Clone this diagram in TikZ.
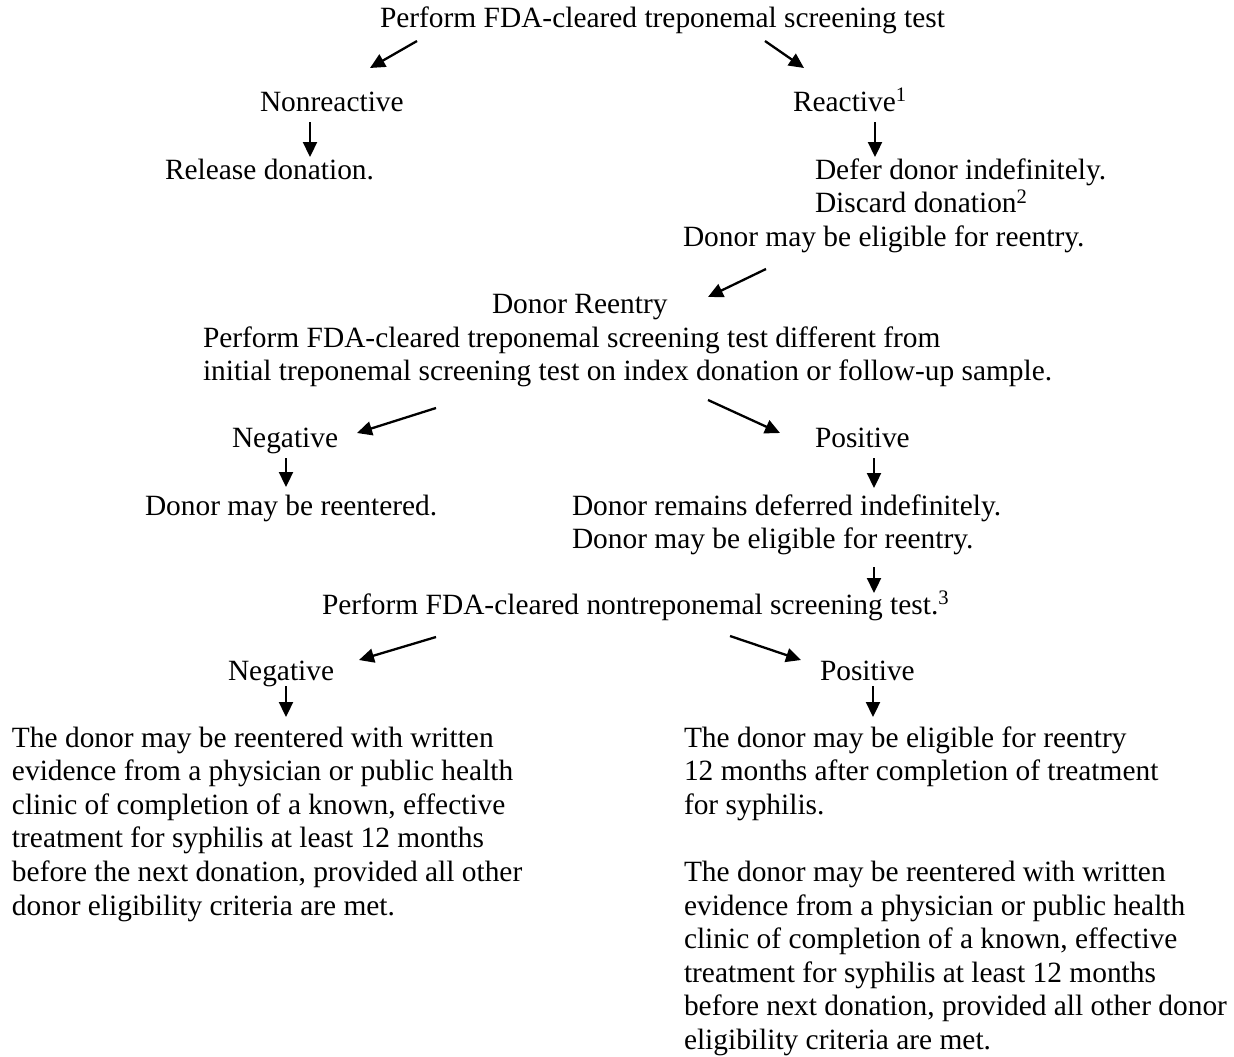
\documentclass[tikz,border=0pt]{standalone}
\usepackage{fontspec}
\setmainfont{Liberation Serif}
\usetikzlibrary{arrows.meta}
\begin{document}
\begin{tikzpicture}[x=1pt,y=-1pt,
  txt/.style={anchor=base west,inner sep=0pt,outer sep=0pt,font=\fontsize{29.4pt}{33.6pt}\selectfont},
  arr/.style={line width=2.3pt,-{Triangle[length=15pt,width=14pt]}}]
\useasboundingbox[fill=white] (0,0) rectangle (1234,1057);
% texts
\node[txt] (title) at (380,28) {Perform FDA-cleared treponemal screening test};
\node[txt] (nonreact) at (260,111) {Nonreactive};
\node[txt] (react) at (793,111) {Reactive\textsuperscript{1}};
\node[txt] (release) at (165,179) {Release donation.};
\node[txt] (defer) at (815,179) {\begin{tabular}[t]{@{}l@{}}Defer donor indefinitely.\\Discard donation\textsuperscript{2}\end{tabular}};
\node[txt] (elig1) at (683,246) {Donor may be eligible for reentry.};
\node[txt] (reentry) at (492,313) {Donor Reentry};
\node[txt] (perf2) at (203,347) {\begin{tabular}[t]{@{}l@{}}Perform FDA-cleared treponemal screening test different from\\initial treponemal screening test on index donation or follow-up sample.\end{tabular}};
\node[txt] (neg1) at (232,447) {Negative};
\node[txt] (pos1) at (815,447) {Positive};
\node[txt] (reentered) at (145,515) {Donor may be reentered.};
\node[txt] (remains) at (572,515) {\begin{tabular}[t]{@{}l@{}}Donor remains deferred indefinitely.\\Donor may be eligible for reentry.\end{tabular}};
\node[txt] (perf3) at (322,614) {Perform FDA-cleared nontreponemal screening test.\textsuperscript{3}};
\node[txt] (neg2) at (228,680) {Negative};
\node[txt] (pos2) at (820,680) {Positive};
\node[txt] (leftpar) at (12,747) {\begin{tabular}[t]{@{}l@{}}The donor may be reentered with written\\evidence from a physician or public health\\clinic of completion of a known, effective\\treatment for syphilis at least 12 months\\before the next donation, provided all other\\donor eligibility criteria are met.\end{tabular}};
\node[txt] (rightpar) at (684,747) {\begin{tabular}[t]{@{}l@{}}The donor may be eligible for reentry\\12 months after completion of treatment\\for syphilis.\\ \\The donor may be reentered with written\\evidence from a physician or public health\\clinic of completion of a known, effective\\treatment for syphilis at least 12 months\\before next donation, provided all other donor\\eligibility criteria are met.\end{tabular}};
% arrow end points
\coordinate (a1s) at (417,41);  \coordinate (a1e) at (370,68);
\coordinate (a2s) at (765,41);  \coordinate (a2e) at (804,68);
\coordinate (d1s) at (310,122); \coordinate (d1e) at (310,157);
\coordinate (d2s) at (875,122); \coordinate (d2e) at (875,157);
\coordinate (a3s) at (766,269); \coordinate (a3e) at (708,297);
\coordinate (a4s) at (436,408); \coordinate (a4e) at (357,433);
\coordinate (a5s) at (708,400); \coordinate (a5e) at (780,433);
\coordinate (d3s) at (286,458); \coordinate (d3e) at (286,487);
\coordinate (d4s) at (874,458); \coordinate (d4e) at (874,488);
\coordinate (d5s) at (874,567); \coordinate (d5e) at (874,593);
\coordinate (a6s) at (436,637); \coordinate (a6e) at (359,660);
\coordinate (a7s) at (730,636); \coordinate (a7e) at (801,660);
\coordinate (d6s) at (286,686); \coordinate (d6e) at (286,717);
\coordinate (d7s) at (873,686); \coordinate (d7e) at (873,717);
\foreach \a in {a1,a2,d1,d2,a3,a4,a5,d3,d4,d5,a6,a7,d6,d7}
  \draw[arr] (\a s) -- (\a e);
\end{tikzpicture}
\end{document}
